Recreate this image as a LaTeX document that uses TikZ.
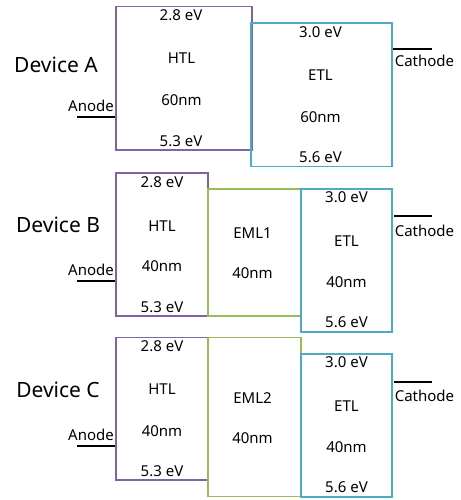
\documentclass[tikz,border=0pt]{standalone}
\usepackage{fontspec}
\setmainfont{Noto Sans}
\definecolor{htlpurple}{HTML}{8064A2}
\definecolor{emlgreen}{HTML}{9BBB59}
\definecolor{etlblue}{HTML}{4BACC6}
\tikzset{
  layerbox/.style={draw, line width=1.5pt, anchor=north west, inner sep=0pt},
  htlbox/.style={layerbox, draw=htlpurple},
  emlbox/.style={layerbox, draw=emlgreen},
  etlbox/.style={layerbox, draw=etlblue},
  lbl/.style={font=\fontsize{15}{18}\selectfont, inner sep=0pt},
  devlbl/.style={font=\fontsize{21}{25}\selectfont, inner sep=0pt},
  electrode/.style={black, line width=1.6pt}
}
\begin{document}
\begin{tikzpicture}[x=1pt,y=-1pt]
\useasboundingbox (0,0) rectangle (460,500);
% Device A
\node[devlbl] (devA) at (56,64.5) {Device A};
\node[htlbox, minimum width=136pt, minimum height=143pt] (aHTL) at (115,6) {};
\node[etlbox, minimum width=141pt, minimum height=143pt] (aETL) at (250,22.5) {};
\node[lbl] (aHTLlumo) at (181,15.5) {2.8 eV};
\node[lbl] (aHTLname) at (181.5,58.5) {HTL};
\node[lbl] (aHTLthk) at (181.5,100) {60nm};
\node[lbl] (aHTLhomo) at (181,141) {5.3 eV};
\node[lbl] (aETLlumo) at (320.5,32.5) {3.0 eV};
\node[lbl] (aETLname) at (320.5,75) {ETL};
\node[lbl] (aETLthk) at (320.5,117) {60nm};
\node[lbl] (aETLhomo) at (320.5,157.5) {5.6 eV};
\node[lbl] (aAnode) at (91,106) {Anode};
\coordinate (aAnodeL) at (77,117.3);
\draw[electrode] (aAnodeL) -- (aAnodeL -| aHTL.west);
\node[lbl] (aCathode) at (424.5,61) {Cathode};
\coordinate (aCathL) at (393,49.3);
\coordinate (aCathR) at (432,49.3);
\draw[electrode] (aCathL) -- (aCathR);
% Device B
\node[devlbl] (devB) at (58,224.5) {Device B};
\node[htlbox, minimum width=92pt, minimum height=143pt] (bHTL) at (115,172) {};
\node[emlbox, minimum width=93pt, minimum height=127pt] (bEML) at (207,188) {};
\node[etlbox, minimum width=91pt, minimum height=143pt] (bETL) at (300,188.3) {};
\node[lbl] (bHTLlumo) at (162,182.5) {2.8 eV};
\node[lbl] (bHTLname) at (162,226) {HTL};
\node[lbl] (bHTLthk) at (162,266) {40nm};
\node[lbl] (bHTLhomo) at (162,307) {5.3 eV};
\node[lbl] (bEMLname) at (252.5,233) {EML1};
\node[lbl] (bEMLthk) at (252.5,273.5) {40nm};
\node[lbl] (bETLlumo) at (346.5,197.5) {3.0 eV};
\node[lbl] (bETLname) at (346.5,241) {ETL};
\node[lbl] (bETLthk) at (346.5,282) {40nm};
\node[lbl] (bETLhomo) at (346.5,322.5) {5.6 eV};
\node[lbl] (bAnode) at (91,270) {Anode};
\coordinate (bAnodeL) at (77,281);
\draw[electrode] (bAnodeL) -- (bAnodeL -| bHTL.west);
\node[lbl] (bCathode) at (424.5,231) {Cathode};
\coordinate (bCathL) at (394,215.7);
\coordinate (bCathR) at (432,215.7);
\draw[electrode] (bCathL) -- (bCathR);
% Device C
\node[devlbl] (devC) at (58,390) {Device C};
\node[htlbox, minimum width=92pt, minimum height=142.6pt] (cHTL) at (115,336.7) {};
\node[emlbox, minimum width=93pt, minimum height=159pt] (cEML) at (207,336.7) {};
\node[etlbox, minimum width=91pt, minimum height=143pt] (cETL) at (300,353.3) {};
\node[lbl] (cHTLlumo) at (162,346.5) {2.8 eV};
\node[lbl] (cHTLname) at (162,389.5) {HTL};
\node[lbl] (cHTLthk) at (162,431) {40nm};
\node[lbl] (cHTLhomo) at (162,471.5) {5.3 eV};
\node[lbl] (cEMLname) at (252.5,398) {EML2};
\node[lbl] (cEMLthk) at (252.5,438.5) {40nm};
\node[lbl] (cETLlumo) at (346.5,362.5) {3.0 eV};
\node[lbl] (cETLname) at (346.5,406) {ETL};
\node[lbl] (cETLthk) at (346.5,447) {40nm};
\node[lbl] (cETLhomo) at (346.5,487) {5.6 eV};
\node[lbl] (cAnode) at (91,435) {Anode};
\coordinate (cAnodeL) at (77,446);
\draw[electrode] (cAnodeL) -- (cAnodeL -| cHTL.west);
\node[lbl] (cCathode) at (424.5,396) {Cathode};
\coordinate (cCathL) at (394,381.7);
\coordinate (cCathR) at (432,381.7);
\draw[electrode] (cCathL) -- (cCathR);
\end{tikzpicture}
\end{document}
